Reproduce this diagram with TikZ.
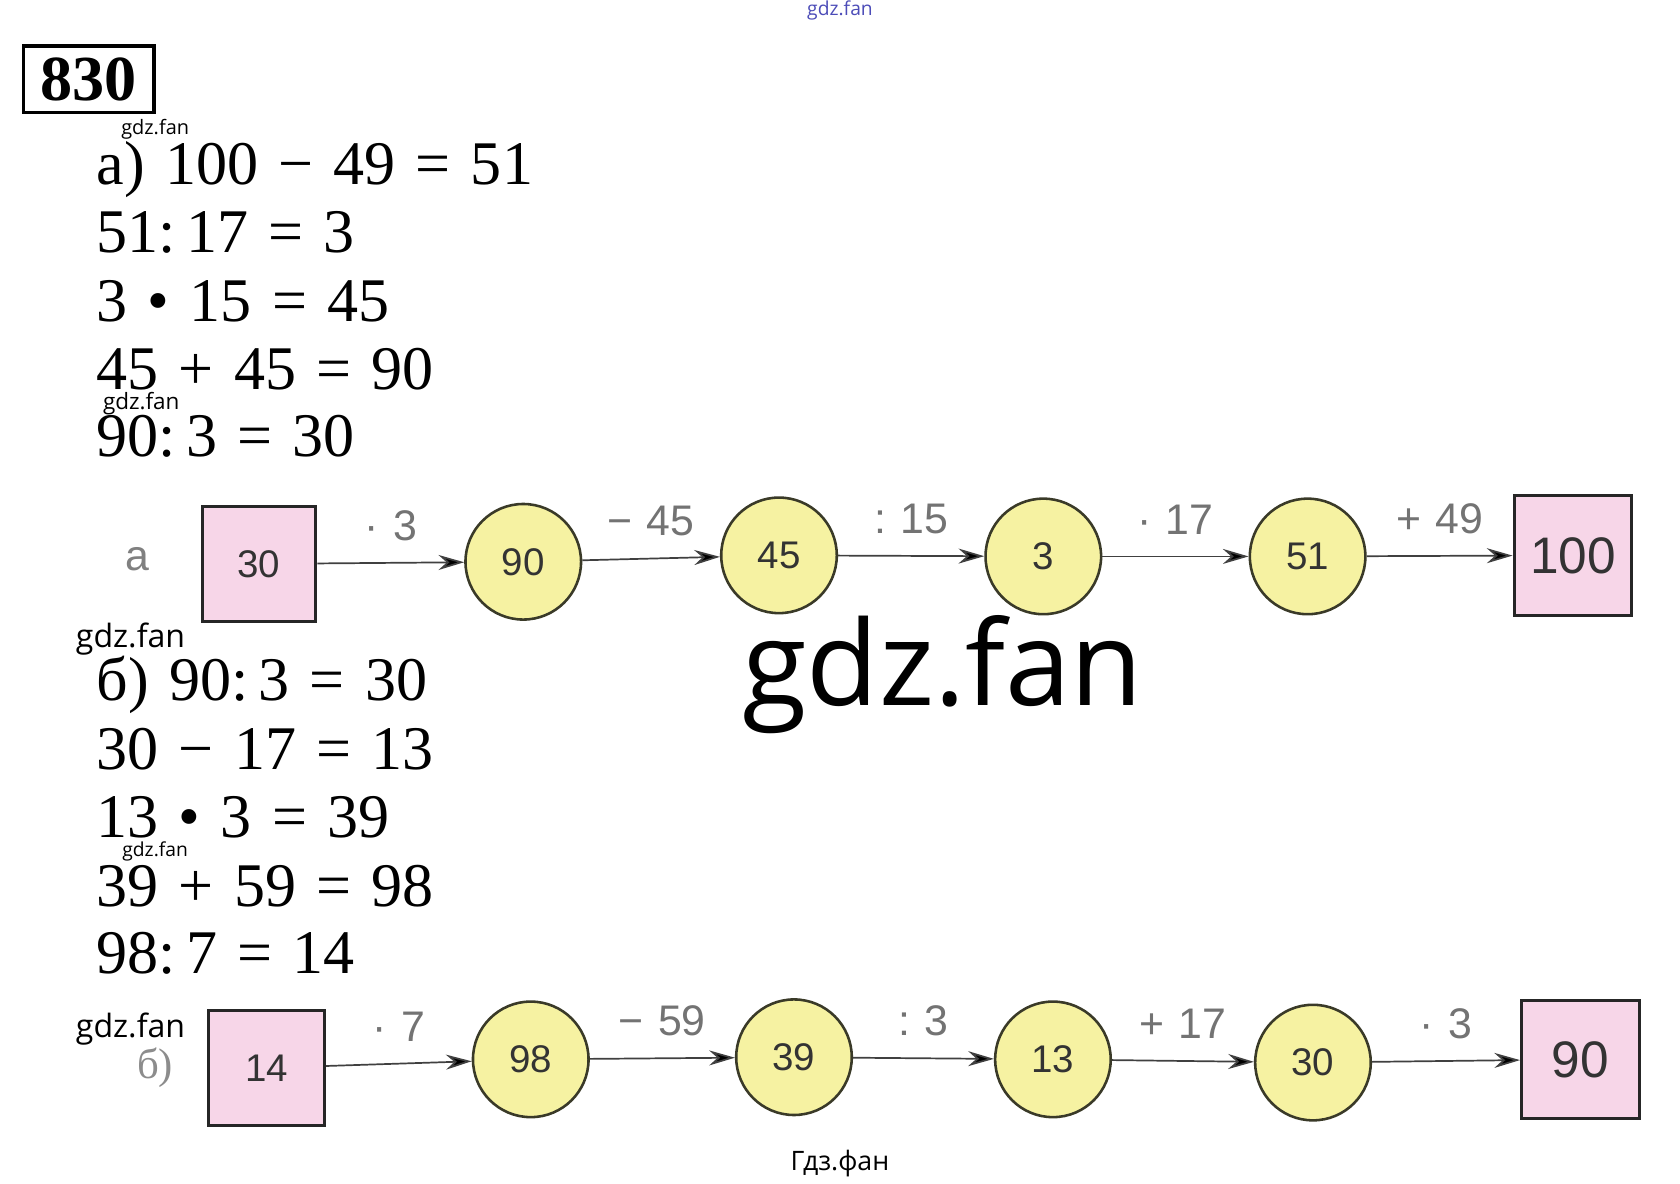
\documentclass[tikz,border=0pt]{standalone}
\usepackage{fontspec}
\setmainfont{Liberation Serif}[WordSpace=1.3]
\setsansfont{Open Sans}
\newfontfamily\numfont{Liberation Sans}
\usetikzlibrary{positioning}
\usetikzlibrary{arrows.meta}
\definecolor{pinkfill}{HTML}{F7D6E8}
\definecolor{yelfill}{HTML}{F6F2A2}
\definecolor{rim}{HTML}{3A3A28}
\tikzset{>={Stealth[length=12pt,width=7pt,fill=black]}}
\tikzset{vert/.style={draw=rim,circle,line width=1.2pt,minimum size=54pt,inner sep=0pt,fill=yelfill,text=black!80,font=\numfont\fontsize{18}{18}\selectfont}}
\tikzset{sq/.style={draw=black!85,line width=1.5pt,minimum width=53pt,minimum height=54pt,inner sep=0pt,fill=pinkfill,text=black!80,font=\numfont\fontsize{18}{18}\selectfont}}
\tikzset{ed/.style={above=9pt,inner sep=1pt,text=black!55,font=\numfont\fontsize{20}{20}\selectfont}}
\tikzset{arr/.style={->,draw=black!75,line width=0.8pt}}
\tikzset{eq/.style={anchor=base west,inner sep=0pt,font=\fontsize{29}{29}\selectfont}}
\tikzset{wm/.style={inner sep=0pt,font=\sffamily}}

\begin{document}
\begin{tikzpicture}[x=0.5pt,y=-0.5pt]
\useasboundingbox[fill=white] (0,0) rectangle (1570,1106);

% number of the task
\node (num) [draw,line width=1.5pt,minimum width=61pt,minimum height=31pt,inner sep=2pt,font=\bfseries\fontsize{30}{30}\selectfont] at (83,74) {830};

% equations a
\node (ea1) [eq] at (90,172) {а) 100 − 49 = 51};
\node (ea2) [eq] at (90,236) {51:\,17 = 3};
\node (ea3) [eq] at (90,300) {3 • 15 = 45};
\node (ea4) [eq] at (90,364) {45 + 45 = 90};
\node (ea5) [eq] at (90,427) {90:\,3 = 30};

% chain a
\node (la) [text=black!50,font=\numfont\fontsize{20}{20}\selectfont] at (128,523) {а};
\node (a30) [sq] at (242,527) {30};
\node (a90) [vert] at (489,525) {90};
\node (a45) [vert] at (728,519) {45};
\node (a3) [vert] at (975,520) {3};
\node (a51) [vert] at (1222,520) {51};
\node (a100) [sq,minimum width=55pt,minimum height=56pt,font=\numfont\fontsize{24}{24}\selectfont] at (1470,519) {100};

\draw[arr] (a30) -- node[ed] {·\,\,3} (a90);
\draw[arr] (a90) -- node[ed] {−\,\,45} (a45);
\draw[arr] (a45) -- node[ed] {:\,\,15} (a3);
\draw[arr] (a3) -- node[ed] {·\,\,17} (a51);
\draw[arr] (a51) -- node[ed] {+\,\,49} (a100);

% equations b
\node (eb1) [eq] at (90,655) {б) 90:\,3 = 30};
\node (eb2) [eq] at (90,719) {30 − 17 = 13};
\node (eb3) [eq] at (90,783) {13 • 3 = 39};
\node (eb4) [eq] at (90,847) {39 + 59 = 98};
\node (eb5) [eq] at (90,910) {98:\,7 = 14};

% chain b
\node (lb) [text=black!45,font=\fontsize{20}{20}\selectfont] at (145,998) {б)};
\node (b14) [sq,minimum width=54pt] at (249,998) {14};
\node (b98) [vert] at (496,990) {98};
\node (b39) [vert] at (742,988) {39};
\node (b13) [vert] at (984,990) {13};
\node (b30) [vert] at (1227,993) {30};
\node (b90) [sq,minimum width=55pt,minimum height=55pt,font=\numfont\fontsize{24}{24}\selectfont] at (1477,990) {90};

\draw[arr] (b14) -- node[ed] {·\,\,7} (b98);
\draw[arr] (b98) -- node[ed] {−\,\,59} (b39);
\draw[arr] (b39) -- node[ed] {:\,\,3} (b13);
\draw[arr] (b13) -- node[ed] {+\,\,17} (b30);
\draw[arr] (b30) -- node[ed] {·\,\,3} (b90);

% watermarks
\node (w0) [wm,text=blue!60!black!70,font=\sffamily\fontsize{9}{9}\selectfont] at (785,10) {gdz.fan};
\node (w1) [wm,font=\sffamily\fontsize{9.3}{9.3}\selectfont] at (145,121) {gdz.fan};
\node (w2) [wm,font=\sffamily\fontsize{10.5}{10.5}\selectfont] at (132,377) {gdz.fan};
\node (w3) [wm,font=\sffamily\fontsize{15}{15}\selectfont] at (122,597) {gdz.fan};
\node (w4) [wm,font=\sffamily\fontsize{9}{9}\selectfont] at (145,796) {gdz.fan};
\node (w5) [wm,font=\sffamily\fontsize{15}{15}\selectfont] at (122,962) {gdz.fan};
\node (w6) [wm,font=\sffamily\fontsize{12.5}{12.5}\selectfont] at (785,1087) {Гдз.фан};
\node (big) [wm,font=\sffamily\fontsize{55}{55}\selectfont] at (881,630) {gdz.fan};
\end{tikzpicture}
\end{document}
